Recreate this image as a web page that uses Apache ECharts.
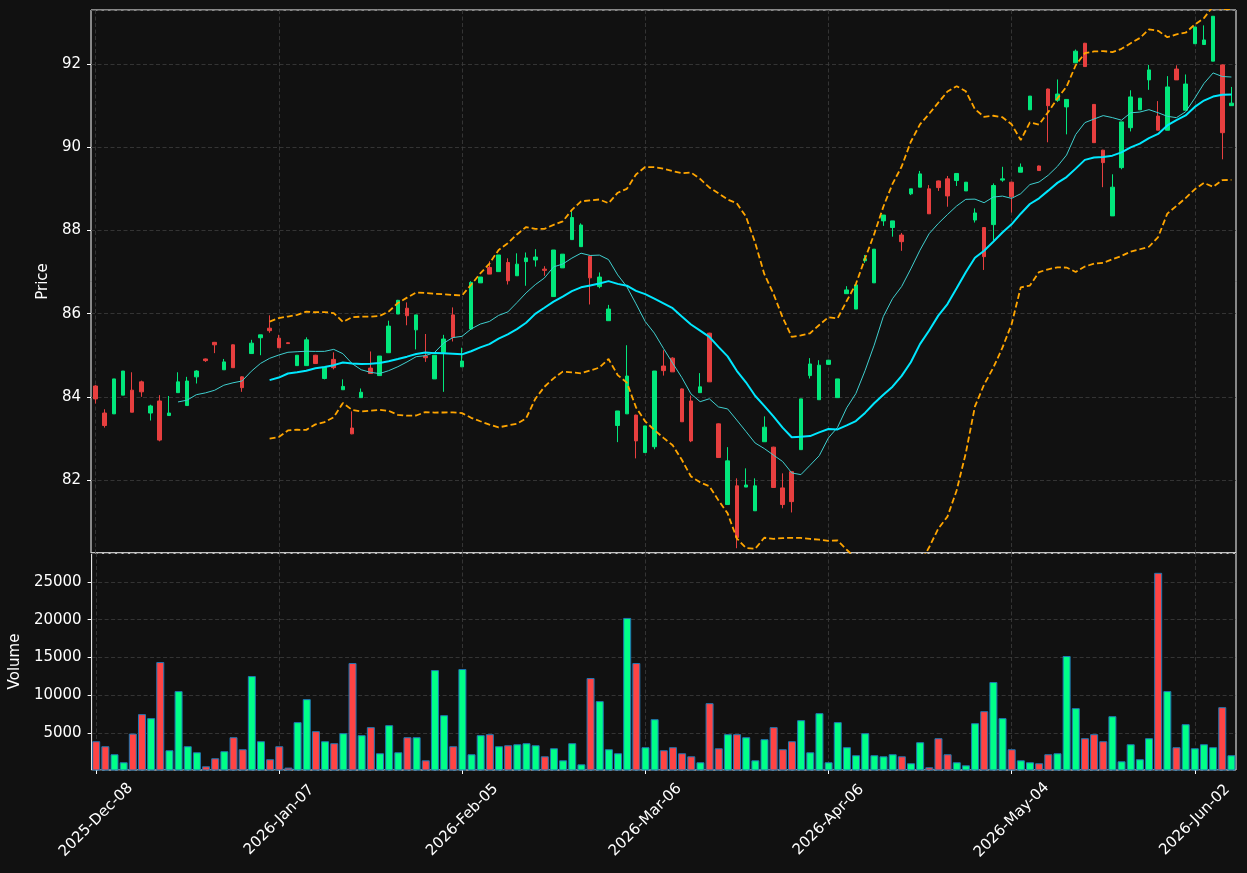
<!DOCTYPE html>
<html>
<head>
<meta charset="utf-8">
<script src="https://cdn.jsdelivr.net/npm/echarts@6/dist/echarts.min.js"></script>
<style>
  html, body { margin: 0; padding: 0; background: #111111; }
  #chart { width: 1247px; height: 873px; }
</style>
</head>
<body>
<div id="chart"></div>
<script>
// trading calendar
const startDate = [2025, 11, 8];
const holidays = ['2025-12-25', '2026-01-01', '2026-01-19', '2026-02-16', '2026-04-03', '2026-05-25'];
const monthNames = ['Jan', 'Feb', 'Mar', 'Apr', 'May', 'Jun', 'Jul', 'Aug', 'Sep', 'Oct', 'Nov', 'Dec'];

const opens = [
  84.26, 83.61, 83.59, 84.04, 84.16, 84.36, 83.61, 83.90, 83.55, 84.10,
  83.79, 84.48, 84.91, 85.31, 84.65, 85.25, 84.48, 85.04, 85.42, 85.65,
  85.41, 85.30, 84.75, 84.75, 85.00, 84.44, 84.90, 84.17, 83.25, 83.98,
  84.69, 84.51, 85.06, 85.99, 86.13, 85.61, 84.98, 84.43, 85.07, 85.97,
  84.72, 85.63, 86.74, 87.11, 87.01, 87.23, 86.91, 87.25, 87.29, 87.07,
  86.41, 87.10, 87.78, 87.61, 87.38, 86.65, 85.83, 83.31, 83.59, 83.56,
  82.66, 82.80, 84.74, 84.93, 84.19, 83.90, 84.10, 85.53, 83.35, 81.41,
  81.86, 81.83, 81.26, 82.92, 82.79, 81.81, 82.20, 82.73, 84.51, 83.93,
  84.78, 83.98, 86.48, 86.11, 87.27, 86.74, 88.23, 88.07, 87.89, 88.88,
  89.04, 89.00, 89.19, 89.24, 89.20, 88.95, 88.25, 88.07, 88.14, 89.21,
  89.16, 89.40, 90.90, 89.55, 91.40, 91.13, 90.97, 92.03, 92.50, 91.03,
  89.93, 88.35, 89.51, 90.47, 90.90, 91.62, 90.75, 90.41, 91.88, 90.89,
  92.49, 92.47, 92.07, 91.98, 91.00
];
const highs = [
  84.28, 83.70, 84.43, 84.62, 84.59, 84.39, 83.81, 84.04, 84.02, 84.59,
  84.48, 84.64, 84.92, 85.32, 84.91, 85.26, 84.49, 85.37, 85.49, 85.96,
  85.49, 85.31, 85.00, 85.43, 85.01, 84.71, 85.07, 84.42, 83.65, 84.20,
  85.09, 84.98, 85.83, 86.33, 86.27, 85.97, 85.51, 85.00, 85.49, 86.15,
  85.18, 86.78, 86.88, 87.26, 87.41, 87.33, 87.45, 87.47, 87.55, 87.14,
  87.53, 87.43, 88.49, 88.17, 87.39, 86.99, 86.21, 83.66, 85.24, 83.57,
  83.30, 84.62, 85.12, 84.95, 84.20, 84.03, 84.57, 85.54, 83.36, 82.79,
  82.04, 82.28, 82.04, 83.53, 82.80, 82.16, 82.21, 83.95, 84.93, 84.88,
  84.89, 84.43, 86.66, 86.69, 87.41, 87.55, 88.37, 88.23, 87.94, 89.00,
  89.43, 89.09, 89.20, 89.31, 89.37, 89.16, 88.53, 88.08, 89.13, 89.53,
  89.17, 89.61, 91.23, 89.56, 91.41, 91.63, 91.15, 92.35, 92.51, 91.04,
  89.94, 89.35, 90.61, 91.37, 91.18, 91.98, 91.11, 91.71, 91.97, 91.75,
  92.89, 92.93, 93.15, 91.99, 91.45
];
const lows = [
  83.84, 83.26, 83.59, 84.04, 83.63, 84.00, 83.43, 82.93, 83.55, 84.10,
  83.79, 84.32, 84.84, 85.05, 84.65, 84.70, 84.12, 85.04, 85.00, 85.54,
  85.18, 85.27, 84.75, 84.75, 84.80, 84.42, 84.66, 84.17, 83.10, 83.98,
  84.56, 84.51, 85.06, 85.99, 85.72, 85.14, 84.84, 84.43, 84.12, 85.33,
  84.72, 85.63, 86.74, 86.95, 87.01, 86.70, 86.91, 86.67, 87.13, 86.91,
  86.41, 87.10, 87.78, 87.61, 86.22, 86.61, 85.83, 82.91, 83.59, 82.52,
  82.66, 82.74, 84.51, 84.60, 83.40, 82.91, 84.10, 84.36, 82.54, 81.41,
  80.36, 81.83, 81.26, 82.92, 81.82, 81.32, 81.22, 82.73, 84.44, 83.93,
  84.77, 83.98, 86.48, 86.11, 87.22, 86.74, 88.11, 87.85, 87.51, 88.85,
  89.04, 88.40, 88.95, 88.57, 89.07, 88.95, 88.19, 87.05, 87.77, 89.17,
  88.43, 89.40, 90.90, 89.44, 90.12, 91.09, 90.31, 92.03, 91.94, 90.11,
  89.04, 88.35, 89.47, 90.38, 90.90, 91.38, 90.41, 90.41, 91.62, 90.89,
  92.49, 92.47, 92.07, 89.71, 91.00
];
const closes = [
  83.95, 83.31, 84.43, 84.62, 83.63, 84.12, 83.78, 82.96, 83.61, 84.36,
  84.38, 84.62, 84.87, 85.25, 84.84, 84.70, 84.22, 85.29, 85.49, 85.59,
  85.18, 85.28, 85.00, 85.37, 84.80, 84.71, 84.70, 84.25, 83.11, 84.11,
  84.56, 84.98, 85.70, 86.32, 85.95, 85.97, 84.94, 85.00, 85.39, 85.43,
  84.86, 86.75, 86.88, 86.95, 87.41, 86.79, 87.19, 87.34, 87.36, 87.04,
  87.53, 87.43, 88.31, 88.13, 86.86, 86.88, 86.11, 83.66, 84.50, 82.94,
  83.30, 84.62, 84.63, 84.60, 83.40, 82.94, 84.24, 84.36, 82.54, 82.46,
  80.62, 81.88, 81.86, 83.27, 81.82, 81.41, 81.48, 83.95, 84.79, 84.76,
  84.88, 84.43, 86.57, 86.69, 87.32, 87.55, 88.37, 88.23, 87.73, 89.00,
  89.36, 88.40, 89.03, 88.83, 89.37, 89.16, 88.42, 87.37, 89.08, 89.24,
  88.81, 89.52, 91.23, 89.44, 91.00, 91.28, 91.15, 92.31, 91.94, 90.11,
  89.63, 89.04, 90.61, 91.21, 91.18, 91.86, 90.41, 91.45, 91.62, 91.52,
  92.89, 92.58, 93.15, 90.35, 91.06
];
const volumes = [
  3940, 3280, 2220, 1160, 4950, 7520, 6990, 14400, 2750, 10560,
  3280, 2480, 630, 1690, 2620, 4470, 2880, 12550, 3940, 1560,
  3280, 460, 6460, 9500, 5270, 3940, 3680, 5000, 14270, 4740,
  5800, 2350, 6060, 2480, 4470, 4470, 1420, 13340, 7380, 3280,
  13480, 2220, 4740, 4870, 3280, 3410, 3540, 3680, 3410, 1950,
  3010, 1420, 3680, 890, 12290, 9240, 2880, 2350, 20230, 14270,
  3150, 6850, 2750, 3150, 2350, 1950, 1160, 8970, 3010, 4870,
  4870, 4470, 1420, 4210, 5800, 2880, 3940, 6720, 2480, 7650,
  1160, 6460, 3150, 2090, 5000, 2090, 1950, 2220, 1950, 1030,
  3810, 500, 4340, 2220, 1160, 760, 6320, 7910, 11760, 6990,
  2880, 1420, 1160, 1030, 2220, 2350, 15200, 8310, 4340, 4870,
  3940, 7250, 1290, 3540, 1560, 4340, 26190, 10560, 3150, 6190,
  3010, 3540, 3150, 8440, 2090
];

const UP = '#02e77c', DOWN = '#e73f3f';
const VOL_UP = '#00ff88', VOL_DOWN = '#ff4444';
const GRID_LINE = { color: '#3d3d3d', width: 0.8, type: [4, 2.5] };
const TEXT = '#ffffff';
const FONT = 'DejaVu Sans';

// business days, skipping exchange holidays
const dates = [];
let d = new Date(Date.UTC(startDate[0], startDate[1], startDate[2]));
while (dates.length < closes.length) {
  const iso = d.toISOString().slice(0, 10);
  const wd = d.getUTCDay();
  if (wd !== 0 && wd !== 6 && holidays.indexOf(iso) < 0) {
    dates.push(iso.slice(0, 4) + '-' + monthNames[d.getUTCMonth()] + '-' + iso.slice(8, 10));
  }
  d.setUTCDate(d.getUTCDate() + 1);
}

function movingAverage(values, n) {
  return values.map(function (v, i) {
    if (i < n - 1) return '-';
    let s = 0;
    for (let k = i - n + 1; k <= i; k++) s += values[k];
    return s / n;
  });
}

// population std, n-period window
function bollinger(values, n, m) {
  const mid = movingAverage(values, n);
  const upper = [], lower = [];
  values.forEach(function (v, i) {
    if (i < n - 1) { upper.push('-'); lower.push('-'); return; }
    let ss = 0;
    for (let k = i - n + 1; k <= i; k++) ss += Math.pow(values[k] - mid[i], 2);
    const sd = Math.sqrt(ss / n);
    upper.push(mid[i] + m * sd);
    lower.push(mid[i] - m * sd);
  });
  return { upper: upper, lower: lower };
}

const ma10 = movingAverage(closes, 10);
const ma20 = movingAverage(closes, 20);
const band = bollinger(closes, 20, 2);

const candleData = opens.map(function (o, i) {
  return [o, closes[i], lows[i], highs[i]];
});
const volumeData = volumes.map(function (v, i) {
  const up = closes[i] >= opens[i];
  return { value: v, itemStyle: { color: up ? VOL_UP : VOL_DOWN } };
});

const everyTwenty = function (i) { return i % 20 === 0; };

let myChart = echarts.init(document.getElementById('chart'));
myChart.setOption({
  animation: false,
  backgroundColor: '#111111',
  textStyle: { fontFamily: FONT },
  grid: [
    { left: 91, right: 11, top: 10, height: 543, show: true, borderColor: '#ffffff', borderWidth: 1 },
    { left: 91, right: 11, top: 553, height: 217, show: true, borderColor: '#ffffff', borderWidth: 1 }
  ],
  xAxis: [
    {
      type: 'category',
      gridIndex: 0,
      data: dates,
      boundaryGap: true,
      axisLine: { show: false },
      axisTick: { show: false },
      axisLabel: { show: false },
      splitLine: { show: true, interval: everyTwenty, alignWithLabel: true, lineStyle: GRID_LINE }
    },
    {
      type: 'category',
      gridIndex: 1,
      data: dates,
      boundaryGap: true,
      axisLine: { show: false },
      axisTick: { show: true, interval: everyTwenty, alignWithLabel: true, length: 4, lineStyle: { color: TEXT } },
      axisLabel: {
        interval: everyTwenty,
        rotate: 45,
        align: 'center',
        verticalAlign: 'middle',
        margin: 50,
        color: TEXT,
        fontSize: 15,
        fontFamily: FONT
      },
      splitLine: { show: true, interval: everyTwenty, alignWithLabel: true, lineStyle: GRID_LINE }
    }
  ],
  yAxis: [
    {
      type: 'value',
      gridIndex: 0,
      min: 80.245,
      max: 93.3,
      splitNumber: 6,
      name: 'Price',
      nameLocation: 'middle',
      nameGap: 33,
      nameTextStyle: { color: TEXT, fontSize: 15, fontFamily: FONT },
      axisLine: { show: false },
      axisTick: { show: true, length: 4, lineStyle: { color: TEXT } },
      axisLabel: { color: TEXT, fontSize: 15, margin: 10, showMinLabel: false, showMaxLabel: false, fontFamily: FONT },
      splitLine: { show: true, lineStyle: GRID_LINE }
    },
    {
      type: 'value',
      gridIndex: 1,
      min: 138,
      max: 28809,
      splitNumber: 5,
      name: 'Volume',
      nameLocation: 'middle',
      nameGap: 64,
      nameTextStyle: { color: TEXT, fontSize: 15, fontFamily: FONT },
      axisLine: { show: false },
      axisTick: { show: true, length: 4, lineStyle: { color: TEXT } },
      axisLabel: {
        color: TEXT, fontSize: 15, margin: 10, showMinLabel: false, showMaxLabel: false, fontFamily: FONT,
        formatter: function (v) { return String(v); }
      },
      splitLine: { show: true, lineStyle: GRID_LINE }
    }
  ],
  series: [
    {
      name: 'OHLC',
      type: 'candlestick',
      xAxisIndex: 0,
      yAxisIndex: 0,
      data: candleData,
      barWidth: 4,
      itemStyle: { color: UP, color0: DOWN, borderColor: UP, borderColor0: DOWN, borderWidth: 1 }
    },
    {
      name: 'MA10',
      type: 'line',
      data: ma10,
      symbol: 'none',
      lineStyle: { color: '#3fcfcf', width: 1 }
    },
    {
      name: 'MA20',
      type: 'line',
      data: ma20,
      symbol: 'none',
      lineStyle: { color: '#00e8ff', width: 2 }
    },
    {
      name: 'Upper',
      type: 'line',
      data: band.upper,
      symbol: 'none',
      lineStyle: { color: '#ffa500', width: 1.8, type: [6, 3] }
    },
    {
      name: 'Lower',
      type: 'line',
      data: band.lower,
      symbol: 'none',
      lineStyle: { color: '#ffa500', width: 1.8, type: [6, 3] }
    },
    {
      name: 'Volume',
      type: 'bar',
      xAxisIndex: 1,
      yAxisIndex: 1,
      data: volumeData,
      barWidth: 8,
      itemStyle: { borderColor: '#1f77b4', borderWidth: 1 }
    }
  ]
});
window.addEventListener('resize', function () {
  myChart.resize();
});
</script>
</body>
</html>
